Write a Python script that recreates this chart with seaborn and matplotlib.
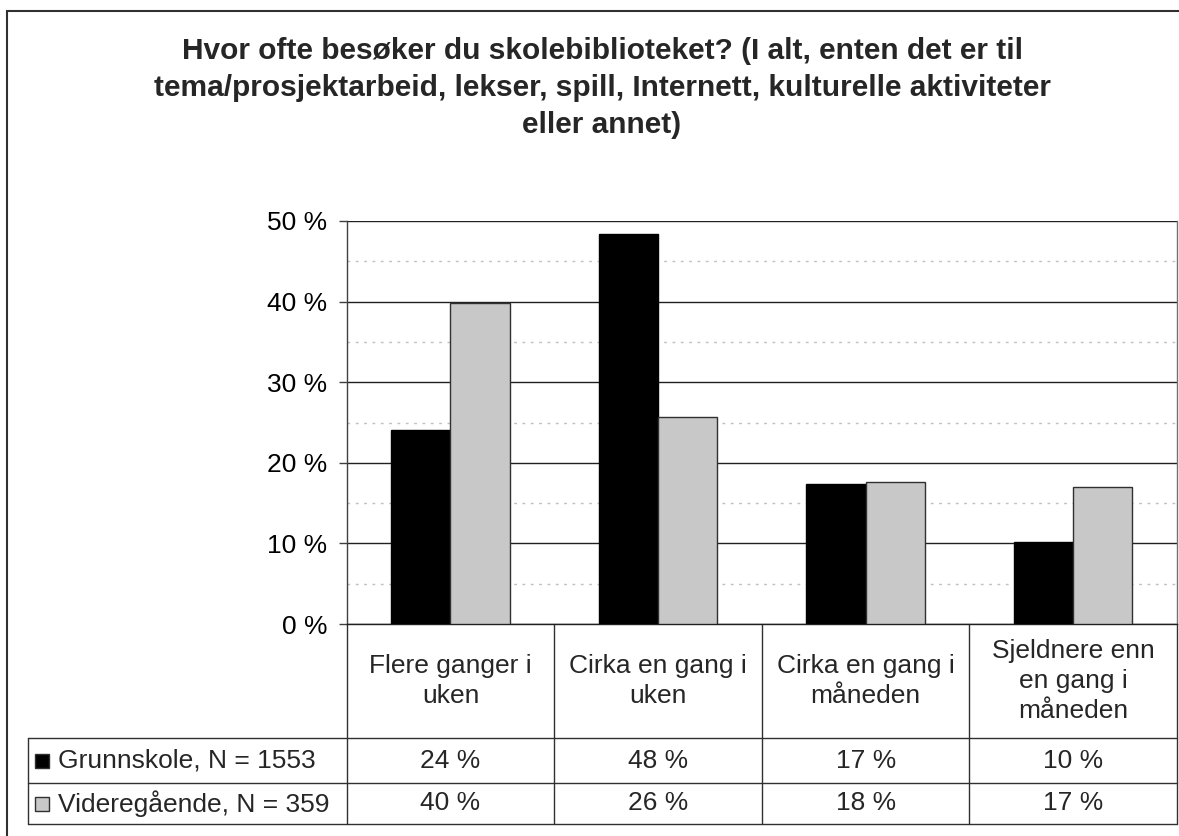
import matplotlib
matplotlib.use("Agg")
import matplotlib.pyplot as plt
import seaborn as sns
import pandas as pd
from matplotlib.ticker import MultipleLocator, FuncFormatter
from matplotlib.transforms import blended_transform_factory

# ---- data ----
categories = ["Flere ganger i\nuken", "Cirka en gang i\nuken",
              "Cirka en gang i\nmåneden", "Sjeldnere enn\nen gang i\nmåneden"]
series_names = ["Grunnskole, N = 1553", "Videregående, N = 359"]
grunnskole = [24.1, 48.4, 17.4, 10.2]
videregaende = [39.8, 25.7, 17.6, 17.0]
title = ("Hvor ofte besøker du skolebiblioteket? (I alt, enten det er til\n"
         "tema/prosjektarbeid, lekser, spill, Internett, kulturelle aktiviteter\n"
         "eller annet)")
colors = ["#000000", "#c8c8c8"]
edgecolors = ["#000000", "#303030"]

df = pd.DataFrame({
    "cat": categories * 2,
    "series": [series_names[0]] * 4 + [series_names[1]] * 4,
    "value": grunnskole + videregaende,
})

sns.set_theme(style="white")
plt.rcParams["font.family"] = ["Liberation Sans", "DejaVu Sans"]

W, H = 1179, 836
FS = 19
fig = plt.figure(figsize=(W / 100, H / 100), dpi=100)
ax = fig.add_axes([346.7 / W, 1 - 624 / H, (1177 - 346.7) / W, (624 - 221) / H])

sns.barplot(data=df, x="cat", y="value", hue="series", order=categories,
            hue_order=series_names, palette=colors, width=0.571, gap=0,
            linewidth=1, edgecolor="black", legend=False, ax=ax, zorder=3)
for p in ax.patches:
    fc = p.get_facecolor()
    p.set_edgecolor(edgecolors[1] if fc[0] > 0.5 else edgecolors[0])

ax.set_xlim(-0.5, 3.5)
ax.set_ylim(0, 50)
ax.yaxis.set_major_locator(MultipleLocator(10))
ax.yaxis.set_minor_locator(MultipleLocator(5))
ax.yaxis.set_major_formatter(FuncFormatter(lambda v, p: f"{int(v)} %"))
ax.grid(axis="y", which="major", color="#202020", linewidth=1, zorder=1)
ax.grid(axis="y", which="minor", color="#c0c0c0", linewidth=1,
        linestyle=(0, (2, 4)), zorder=1)
ax.set_axisbelow(True)
ax.set_xlabel("")
ax.set_ylabel("")
ax.tick_params(axis="x", length=0, labelbottom=False)
ax.tick_params(axis="y", which="major", left=True, length=6, width=1,
               color="#404040", labelsize=FS, pad=8, labelcolor="black")
ax.tick_params(axis="y", which="minor", left=False)
for s in ["left", "right", "bottom"]:
    ax.spines[s].set_visible(True)
    ax.spines[s].set_linewidth(1)
ax.spines["left"].set_color("#404040")
ax.spines["right"].set_color("#707070")
ax.spines["bottom"].set_color("#202020")
ax.spines["top"].set_visible(False)

# ---- data table ----
bt = blended_transform_factory(ax.transData, ax.transAxes)
y_head = -(738 - 624) / 403
y_row1 = -(783 - 624) / 403
y_row2 = -(824 - 624) / 403
x_leg = (27.5 - 346.7) / (1177 - 346.7)
line_kw = dict(color="#303030", linewidth=1, clip_on=False)
n = len(categories)
for i in range(n + 1):
    ax.plot([i - 0.5, i - 0.5], [0, y_row2], transform=bt, **line_kw)
for yy in (y_head, y_row1, y_row2):
    ax.plot([x_leg, 1], [yy, yy], transform=ax.transAxes, **line_kw)
ax.plot([x_leg, x_leg], [y_head, y_row2], transform=ax.transAxes, **line_kw)

for i, c in enumerate(categories):
    ax.text(i, y_head / 2, c, transform=bt, ha="center", va="center",
            fontsize=FS, linespacing=1.3, clip_on=False)
rows = [grunnskole, videregaende]
row_y = [(y_head + y_row1) / 2, (y_row1 + y_row2) / 2]
for r, (vals, yy) in enumerate(zip(rows, row_y)):
    for i, v in enumerate(vals):
        ax.text(i, yy, f"{round(v)} %", transform=bt, ha="center",
                va="center", fontsize=FS, clip_on=False)
    xk = (42 - 346.7) / (1177 - 346.7)
    ax.plot([xk], [yy], marker="s", markersize=10, markerfacecolor=colors[r],
            markeredgecolor="#303030", markeredgewidth=1,
            transform=ax.transAxes, clip_on=False, linestyle="none")
    ax.text((58 - 346.7) / (1177 - 346.7), yy, series_names[r],
            transform=ax.transAxes, ha="left", va="center", fontsize=FS,
            clip_on=False)

fig.text(602 / W, 1 - 37 / H, title, ha="center", va="top",
         fontsize=21.5, fontweight="bold", linespacing=1.42)

# outer chart border (partially visible)
fig.add_artist(plt.Rectangle((6.7 / W, -0.1), 1.2, 1 - 11 / H + 0.1,
                             transform=fig.transFigure, fill=False,
                             edgecolor="#303030", linewidth=1.5))

fig.savefig("out.png", dpi=100)
